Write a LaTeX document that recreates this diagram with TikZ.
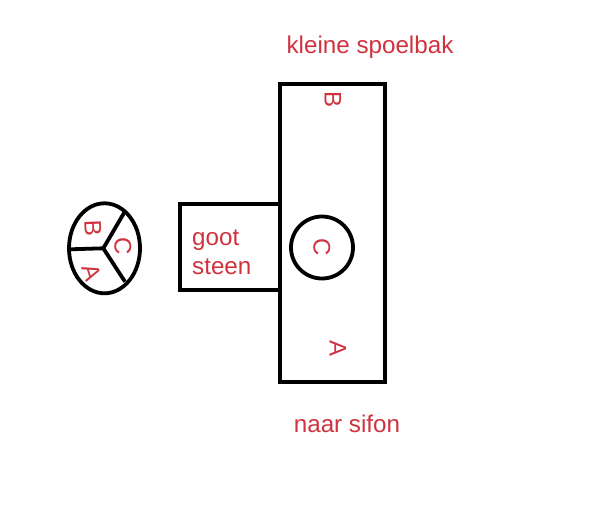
\documentclass[tikz,border=0pt]{standalone}
\usetikzlibrary{shapes.geometric}
\usepackage{fontspec}
\setmainfont{Liberation Sans}
\definecolor{inkred}{RGB}{208,50,62}
\tikzset{
  label text/.style={text=inkred,font=\fontsize{24.2}{29}\selectfont,inner sep=0pt},
  small letter/.style={text=inkred,font=\fontsize{24}{26}\selectfont,inner sep=0pt},
  heavy/.style={draw=black,line width=4pt,line join=miter},
  medium/.style={draw=black,line width=3.8pt}
}
\begin{document}
\begin{tikzpicture}[x=1pt,y=-1pt]
\useasboundingbox[fill=white] (0,0) rectangle (600,517);
\node[heavy,minimum width=105.5pt,minimum height=298.5pt,inner sep=0pt,anchor=north west,outer sep=0pt] (bak) at (279.5,83.5) {};
\coordinate (gootTR) at (279.5,204);
\coordinate (gootTL) at (180.3,204);
\coordinate (gootBL) at (180.3,290);
\coordinate (gootBR) at (279.5,290);
\draw[heavy] (gootTR) -- (gootTL) -- (gootBL) -- (gootBR);
\node[medium,circle,minimum size=62pt,inner sep=0pt] (plug) at (322,247.5) {};
\node[medium,ellipse,minimum width=71pt,minimum height=90pt,inner sep=0pt] (oval) at (104.5,248.3) {};
\coordinate (hub) at (103.3,248.3);
\coordinate (armB) at (70,249.3);
\coordinate (armC) at (124,213);
\coordinate (armA) at (125,281.7);
\draw[medium] (hub) -- (armB);
\draw[medium] (hub) -- (armC);
\draw[medium] (hub) -- (armA);
\node[label text] (t1) at (370,47) {kleine spoelbak};
\node[label text] (t2) at (347,424) {naar sifon};
\node[label text,align=left,anchor=west] (t3) at (192,252) {goot\\steen};
\node[small letter,rotate=-90] (b1) at (333,100) {B};
\node[small letter,rotate=-90] (c1) at (322,247) {C};
\node[small letter,rotate=-90] (a1) at (338,348) {A};
\node[small letter,rotate=-88] (b2) at (93,228) {B};
\node[small letter,rotate=-90] (c2) at (123,246) {C};
\node[small letter,rotate=-72] (a2) at (92,273) {A};
\end{tikzpicture}
\end{document}
